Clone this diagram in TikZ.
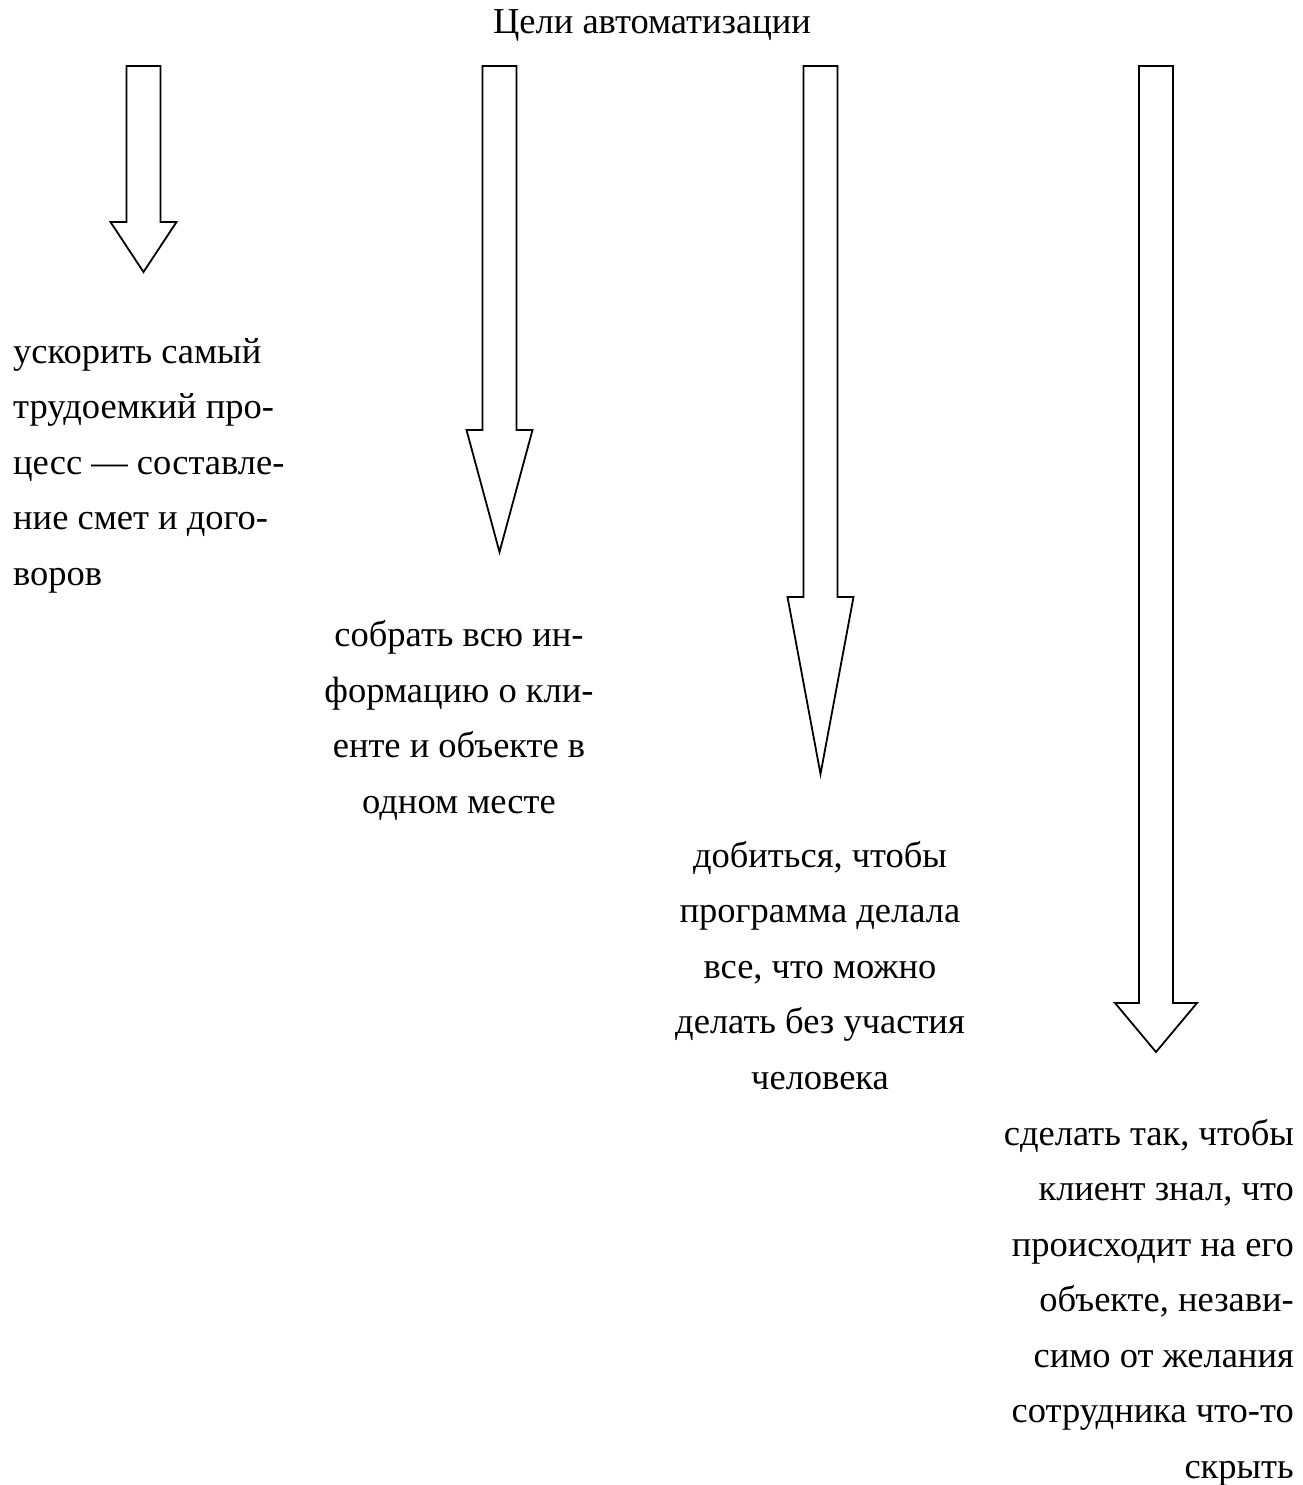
\documentclass[tikz,border=0pt]{standalone}
\usepackage{fontspec}
\setmainfont{Liberation Serif}
\usetikzlibrary{positioning, calc}

% block arrow: name, x of axis, y where the head starts, y of the tip, half width of the head
\newcommand{\goalarrow}[5]{%
  \draw[goalline] (#2-17,66) -- (#2+17,66) -- (#2+17,#3) -- (#2+#5,#3)
    -- (#2,#4) coordinate (#1) -- (#2-#5,#3) -- (#2-17,#3) -- cycle;}

\tikzset{
  goalline/.style={draw=black, line width=1.8pt, line join=miter, fill=white},
  goaltext/.style={font=\fontsize{36.5}{55.5}\selectfont, inner sep=0pt}
}

\begin{document}
\begin{tikzpicture}[x=1pt, y=-1pt]
      \useasboundingbox (0,0) rectangle (1302,1485);

      % title
      \node[goaltext, anchor=base] (title) at (652,34) {Цели автоматизации};

      % arrows
      \goalarrow{tipA}{143.5}{222}{272}{33}
      \goalarrow{tipB}{499.5}{430}{552}{33}
      \goalarrow{tipC}{820.5}{597}{774}{33}
      \goalarrow{tipD}{1156}{1003}{1052}{41}

      % goals (base = baseline of the last line)
      \node[goaltext, align=left, anchor=base west] (goalA) at (13,585)
        {ускорить самый\\трудоемкий про-\\цесс — составле-\\ние смет и дого-\\воров};
      \node[goaltext, align=center, anchor=base] (goalB) at (459,813)
        {собрать всю ин-\\формацию о кли-\\енте и объекте в\\одном месте};
      \node[goaltext, align=center, anchor=base] (goalC) at (820,1089)
        {добиться, чтобы\\программа делала\\все, что можно\\делать без участия\\человека};
      \node[goaltext, align=right, anchor=base east] (goalD) at (1294,1478)
        {сделать так, чтобы\\клиент знал, что\\происходит на его\\объекте, незави-\\симо от желания\\сотрудника что-то\\скрыть};
    \end{tikzpicture}
\end{document}
